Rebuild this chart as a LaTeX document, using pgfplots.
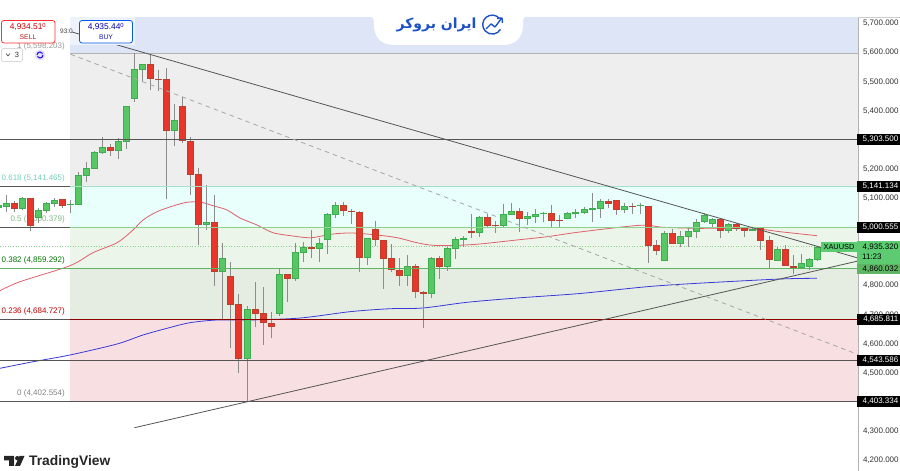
\documentclass[border=0pt]{standalone}
\usepackage{fontspec}
\usepackage{pgfplots}
\pgfplotsset{compat=1.18}
\setmainfont{Liberation Sans}
\newfontfamily\arabicfont[Script=Arabic]{DejaVu Sans}
\TeXXeTstate=1

\definecolor{candleup}{HTML}{56C763}
\definecolor{candleupdk}{HTML}{3DAE50}
\definecolor{candledn}{HTML}{E8362A}
\definecolor{candledndk}{HTML}{B8402E}
\definecolor{wick}{HTML}{8C8C8C}
\definecolor{zblue}{HTML}{DEE5F7}
\definecolor{zgrey}{HTML}{EEEEEE}
\definecolor{zcyan}{HTML}{E8FFFB}
\definecolor{zlgreen}{HTML}{EBF5E9}
\definecolor{zgreen}{HTML}{E5EDE3}
\definecolor{zpink}{HTML}{F8DFE1}
\definecolor{logoblue}{HTML}{1E50C8}
\definecolor{tagbg}{HTML}{5DCB72}
\definecolor{levelgreen}{HTML}{5FB564}
\definecolor{maslow}{HTML}{E0606C}
\definecolor{mablue}{HTML}{3A3AD8}
\definecolor{levelline}{HTML}{555555}

% x low bottom top high
\newcommand\candlebody[6]{%
  \pgfmathsetmacro\xl{#1-3.1}\pgfmathsetmacro\xr{#1+3.1}%
  \addplot[draw=wick,line width=1pt] coordinates {(#1,#2)(#1,#5)};
  \addplot[draw=#6dk,fill=#6,line width=0.7pt] coordinates {(\xl,#3)(\xr,#3)(\xr,#4)(\xl,#4)} --cycle;
}
\newcommand\up[5]{\candlebody{#1}{#2}{#3}{#4}{#5}{candleup}}
\newcommand\dn[5]{\candlebody{#1}{#2}{#3}{#4}{#5}{candledn}}
\newcommand\zone[3]{\addplot[fill=#1,draw=none] coordinates {(70,#2)(858,#2)(858,#3)(70,#3)} --cycle;}
\newcommand\level[4]{\addplot[draw=#1,line width=#4] coordinates {(#2,#3)(858,#3)};}
\newcommand\fiblabel[3]{\node[anchor=east,text=#1,font=\fontsize{8}{9}\selectfont,inner sep=0pt] at (axis cs:65,#2) {#3};}

\begin{document}
\begin{tikzpicture}
\useasboundingbox (0,0) rectangle (900pt,471pt);
\begin{axis}[
    at={(0,0)},anchor=south west,
    scale only axis,width=858pt,height=471pt,
    xmin=0,xmax=858,ymin=4164,ymax=5780.7,
    clip=false,
    xtick=\empty,
    ytick={4200,4300,4500,4600,4700,4800,5100,5200,5400,5500,5600,5700},
    yticklabel pos=right,
    y tick label style={anchor=west,xshift=1.5pt,text=black!80,font=\fontsize{8}{9}\selectfont,
      /pgf/number format/.cd,assume math mode=true,fixed,fixed zerofill,precision=3,1000 sep={,}},
    major tick length=0pt,
    axis line style={draw=none},
    no markers,
]
% fib zones
\zone{zblue}{5722.3}{5598.2}
\zone{zgrey}{5598.2}{5141.5}
\zone{zcyan}{5141.5}{5000.4}
\zone{zlgreen}{5000.4}{4859.3}
\zone{zgreen}{4859.3}{4684.7}
\zone{zpink}{4684.7}{4402.6}
\addplot[draw=black!30,line width=0.6pt] coordinates {(70,5598.2)(858,5598.2)};
% fib labels
\fiblabel{black!40}{5623}{1 (5,598.203)}
\fiblabel{cyan!45!green!55}{5168}{0.618 (5,141.465)}
\fiblabel{green!45!black!50}{5027}{0.5 (5,000.379)}
\fiblabel{green!45!black}{4886}{0.382 (4,859.292)}
\fiblabel{red!75!black}{4711}{0.236 (4,684.727)}
\fiblabel{black!50}{4430}{0 (4,402.554)}
% last price dotted
\addplot[draw=green!60!black!45,line width=0.6pt,dotted] coordinates {(0,4935.3)(858,4935.3)};
% moving averages
\addplot[draw=maslow,line width=0.8pt,smooth] coordinates {
(0,4782.9)(20,4813.7)(70,4868.7)(93,4913.3)(117,4947.6)(133,4991.2)(143,5025.5)(157,5054)(173,5073.6)
(187,5086.3)(200,5087.3)(213,5074.6)(227,5059.9)(240,5032.4)(257,5008.4)(273,4981.9)(293,4970.6)
(311,4964.8)(333,4977.5)(352,4980.9)(377,4974)(397,4964.8)(417,4947.6)(433,4938.7)(457,4938.7)
(480,4943.2)(517,4957)(547,4968.2)(580,4984.4)(640,5007.4)(663,5000.5)(697,4997)(720,4997)
(760,4993.6)(780,4985.4)(817,4971.7)};
\addplot[draw=mablue,line width=0.8pt,smooth] coordinates {
(0,4516.5)(33,4539)(70,4562.2)(117,4599.9)(143,4630.8)(167,4653.8)(190,4673)(217,4682.3)(250,4682.3)
(300,4689)(350,4710.8)(390,4721)(423,4723.5)(467,4743)(517,4757.8)(580,4773.3)(647,4796.6)(697,4808.2)
(780,4823)(817,4825.4)};
% candles: x low bottom top high
\up{-2}{5060}{5069}{5075}{5082}
\up{6}{5054}{5071}{5081}{5110}
\dn{14}{5054}{5066}{5082}{5090}
\up{22}{5060}{5066}{5100}{5106}
\dn{30}{4989}{5006}{5100}{5101}
\up{38}{5014}{5035}{5058}{5066}
\up{46}{5048}{5058}{5081}{5088}
\up{54}{5071}{5082}{5094}{5100}
\dn{62}{5066}{5077}{5096}{5097}
\up{70}{5048}{5078}{5080}{5094}
\up{78}{5077}{5080}{5178}{5189}
\up{86}{5157}{5180}{5202}{5223}
\up{94}{5200}{5202}{5258}{5263}
\up{102}{5252}{5259}{5275}{5312}
\dn{110}{5245}{5265}{5275}{5286}
\up{118}{5236}{5265}{5296}{5306}
\up{126}{5268}{5296}{5416}{5417}
\up{134.7}{5432}{5444}{5543}{5600}
\up{142.7}{5499}{5544}{5560}{5561}
\dn{150.7}{5472}{5512}{5560}{5594}
\dn{158.7}{5469}{5508}{5510}{5540}
\dn{166.7}{5096}{5333}{5508}{5546}
\up{174.7}{5281}{5333}{5368}{5424}
\dn{182.7}{5291}{5299}{5417}{5449}
\dn{190.7}{5111}{5183}{5297}{5312}
\dn{198.7}{4940}{5012}{5182}{5203}
\up{206.7}{4991}{5012}{5019}{5144}
\dn{214.7}{4799}{4848}{5017}{5111}
\up{222.7}{4682}{4848}{4894}{4948}
\dn{230.7}{4585}{4735}{4833}{4882}
\dn{238.7}{4499}{4550}{4736}{4771}
\up{247}{4402}{4550}{4719}{4730}
\dn{255}{4657}{4705}{4719}{4812}
\dn{263}{4596}{4673}{4705}{4794}
\dn{271}{4619}{4659}{4672}{4711}
\up{279}{4696}{4704}{4839}{4856}
\dn{287}{4745}{4824}{4839}{4840}
\up{295}{4817}{4824}{4914}{4948}
\up{303}{4883}{4913}{4932}{4950}
\dn{311}{4894}{4929}{4930}{4991}
\up{319}{4880}{4927}{4945}{4963}
\up{327}{4909}{4958}{5046}{5051}
\up{335}{5034}{5044}{5077}{5088}
\dn{343}{5040}{5058}{5077}{5088}
\dn{351}{5012}{5054}{5056}{5062}
\dn{359}{4848}{4896}{5052}{5056}
\up{367}{4871}{4896}{4963}{4964}
\dn{375}{4936}{4958}{4993}{5022}
\dn{383}{4790}{4895}{4957}{4958}
\dn{391}{4848}{4855}{4894}{4942}
\dn{399}{4800}{4834}{4853}{4894}
\up{407}{4800}{4834}{4866}{4905}
\dn{415}{4759}{4780}{4868}{4873}
\dn{423.5}{4656}{4775}{4777}{4783}
\up{431.5}{4759}{4773}{4895}{4897}
\dn{439.5}{4824}{4865}{4895}{4902}
\up{447.5}{4852}{4865}{4927}{4932}
\up{455.5}{4893}{4927}{4959}{4966}
\up{463.5}{4934}{4960}{4962}{4971}
\dn{471.5}{4964}{4982}{4988}{5046}
\up{479.5}{4968}{4982}{5035}{5039}
\dn{487.5}{4997}{5007}{5035}{5045}
\dn{495.5}{4982}{5006}{5008}{5023}
\up{503.5}{5003}{5007}{5044}{5080}
\up{511.5}{5042}{5044}{5055}{5085}
\dn{519.5}{4985}{5031}{5055}{5066}
\up{527.5}{5008}{5031}{5037}{5054}
\up{535.5}{5016}{5038}{5045}{5062}
\up{543.5}{5020}{5047}{5049}{5053}
\dn{551.5}{4998}{5026}{5048}{5077}
\dn{559.5}{5003}{5023}{5025}{5043}
\up{567.5}{5028}{5031}{5050}{5054}
\up{575.5}{5031}{5050}{5052}{5062}
\up{584}{5045}{5051}{5061}{5069}
\up{592}{5018}{5062}{5064}{5117}
\up{600}{5034}{5066}{5090}{5096}
\dn{608}{5066}{5082}{5090}{5096}
\dn{616}{5044}{5062}{5093}{5094}
\up{624}{5051}{5061}{5074}{5083}
\dn{632}{5046}{5072}{5074}{5083}
\up{640}{5046}{5075}{5077}{5085}
\dn{648}{4878}{4939}{5074}{5075}
\dn{656}{4905}{4920}{4939}{4957}
\up{664}{4886}{4887}{4980}{4988}
\dn{672}{4943}{4945}{4979}{4996}
\up{680}{4932}{4945}{4968}{4988}
\up{688}{4932}{4968}{4987}{4997}
\up{696}{4963}{4985}{5019}{5030}
\up{704}{5016}{5020}{5040}{5048}
\up{712}{4997}{5015}{5027}{5031}
\dn{720}{4963}{4990}{5027}{5031}
\up{728}{4982}{4990}{5012}{5014}
\dn{736}{4989}{4996}{5012}{5016}
\dn{744}{4968}{4989}{4996}{5000}
\up{752}{4988}{4990}{4992}{4997}
\dn{760}{4923}{4955}{4996}{5000}
\dn{769}{4857}{4889}{4955}{4971}
\up{777}{4886}{4888}{4924}{4932}
\dn{785}{4868}{4869}{4924}{4941}
\dn{793}{4840}{4864}{4867}{4907}
\up{801}{4860}{4863}{4876}{4909}
\up{809}{4854}{4868}{4889}{4896}
\up{817}{4886}{4889}{4932}{4936}
% horizontal levels
\level{levelline}{0}{5303.5}{0.8pt}
\level{levelline}{0}{5141.134}{0.8pt}
\level{cyan!35!green!35}{70}{5141.134}{0.9pt}
\level{levelline}{0}{5000.555}{0.8pt}
\level{green!60!black!45}{70}{5000.555}{0.9pt}
\level{levelgreen}{0}{4860.032}{1pt}
\level{levelline}{0}{4685.811}{0.8pt}
\level{red!55!black}{70}{4685.811}{0.9pt}
\level{levelline}{0}{4543.586}{0.8pt}
\level{levelline}{0}{4403.334}{0.8pt}
% trend lines
\addplot[draw=levelline,line width=0.8pt] coordinates {(72,5671)(858,4895)};
\addplot[draw=levelline,line width=0.8pt] coordinates {(134.5,4312.6)(858,4884.8)};
\addplot[draw=black!35,line width=0.8pt,dash pattern=on 4.5pt off 4pt] coordinates {(70.7,5594.3)(858,4564)};
% price scale border
\addplot[draw=black!30,line width=1pt] coordinates {(858,4164)(858,5722.3)};
\end{axis}

% overlays in picture pixels, y down
\begin{scope}[x=1pt,y=-1pt,yshift=471pt]
\draw[black!20,line width=0.5pt] (858,17.3) -- (900,17.3);
% logo tab
\fill[white] (372,16) -- (372,17) .. controls (374,18) and (374,20) .. (374,25) .. controls (374,38) and (382,45) .. (394,45) -- (503,45) .. controls (515,45) and (523,38) .. (523,25) .. controls (523,20) and (523,18) .. (525,17) -- (525,16) -- cycle;
\node[text=logoblue,font=\arabicfont\bfseries\fontsize{14}{15}\selectfont,inner sep=0pt] at (436.5,24.5) {\beginR ایران بروکر\endR};
\draw[logoblue,line width=1.4pt] (499.5,18.5) arc[start angle=-40+0,end angle=-40-290,radius=9.5];
\draw[logoblue,line width=1.4pt,line join=round] (486,29) -- (491,24) -- (495,27) -- (501,19);
\draw[logoblue,line width=1.4pt,line join=round] (497,18.5) -- (502,18) -- (502.5,23);
% buy and sell
\fill[white!50!zblue] (70,17) rectangle (135,45);
\node[anchor=center,text=black!75,font=\fontsize{6.5}{7}\selectfont,inner sep=0pt] at (66.5,31.5) {93:0};
\draw[levelline,line width=0.8pt] (72,32) -- (79,34);
\draw[draw=red!75!pink,fill=white,rounded corners=2.5pt,line width=0.8pt] (1.5,20.5) rectangle (55,43);
\node[text=red!80!black,font=\fontsize{8.4}{9}\selectfont,inner sep=0pt] at (28,27) {4,934.51\textsuperscript{0}};
\node[text=red!70!black!90,font=\fontsize{6.8}{7}\selectfont,inner sep=0pt] at (28,37) {SELL};
\draw[draw=blue!60!cyan!90!black,fill=white,rounded corners=2.5pt,line width=0.8pt] (79.5,20.5) rectangle (132.5,43);
\node[text=blue!70!black,font=\fontsize{8.4}{9}\selectfont,inner sep=0pt] at (106,27) {4,935.44\textsuperscript{0}};
\node[text=blue!65!black!90,font=\fontsize{6.8}{7}\selectfont,inner sep=0pt] at (106,37) {BUY};
% interval selector
\draw[black!15,fill=white,rounded corners=1.5pt,line width=0.7pt] (1.5,48.5) rectangle (22.5,61.5);
\draw[black!70,line width=0.6pt] (6,53.5) -- (8,56) -- (10,53.5);
\node[text=black!80,font=\fontsize{7.5}{8}\selectfont,inner sep=0pt] at (17,55) {3};
\fill[blue!12!white] (40,55) circle (5.5);
\draw[blue!70!violet,line width=1pt] (43,55) arc[start angle=0,end angle=150,radius=3];
\draw[blue!70!violet,line width=1pt] (37,55) arc[start angle=180,end angle=330,radius=3];
% price tags
\foreach \yy/\txt in {139.5/{5,303.500},186.5/{5,141.134},227.5/{5,000.555},319.5/{4,685.811},360.5/{4,543.586},401.5/{4,403.334}}{
  \fill[black] (857,\yy-5.3) rectangle (900,\yy+5.3);
  \node[text=white,font=\fontsize{8}{9}\selectfont,inner sep=0pt,anchor=east] at (898.5,\yy) {\txt};
}
\fill[tagbg] (821,241.7) rectangle (857,252.5);
\node[text=black,font=\fontsize{7.4}{8}\selectfont,inner sep=0pt] at (839,247) {XAUUSD};
\fill[tagbg] (857,240.7) rectangle (900,264.3);
\node[text=black,font=\fontsize{8}{9}\selectfont,inner sep=0pt,anchor=east] at (898.5,247) {4,935.320};
\node[text=black,font=\fontsize{8}{9}\selectfont,inner sep=0pt,anchor=west] at (862,256.5) {11:23};
\fill[levelgreen] (857,264.3) rectangle (900,274.5);
\node[text=black,font=\fontsize{8}{9}\selectfont,inner sep=0pt,anchor=east] at (898.5,269) {4,860.032};
% TradingView mark
\fill[black!85] (4,456) -- (14,456) -- (14,466) -- (9,466) -- (9,460.5) -- (4,460.5) -- cycle;
\fill[black!85] (17.3,458.2) circle (2.2);
\fill[black!85] (19.5,456) -- (24.5,456) -- (20,466) -- (15,466) -- cycle;
\node[anchor=west,text=black!85,font=\bfseries\fontsize{13.8}{15}\selectfont,inner sep=0pt] at (29,461.5) {TradingView};
\end{scope}
\end{tikzpicture}
\end{document}
